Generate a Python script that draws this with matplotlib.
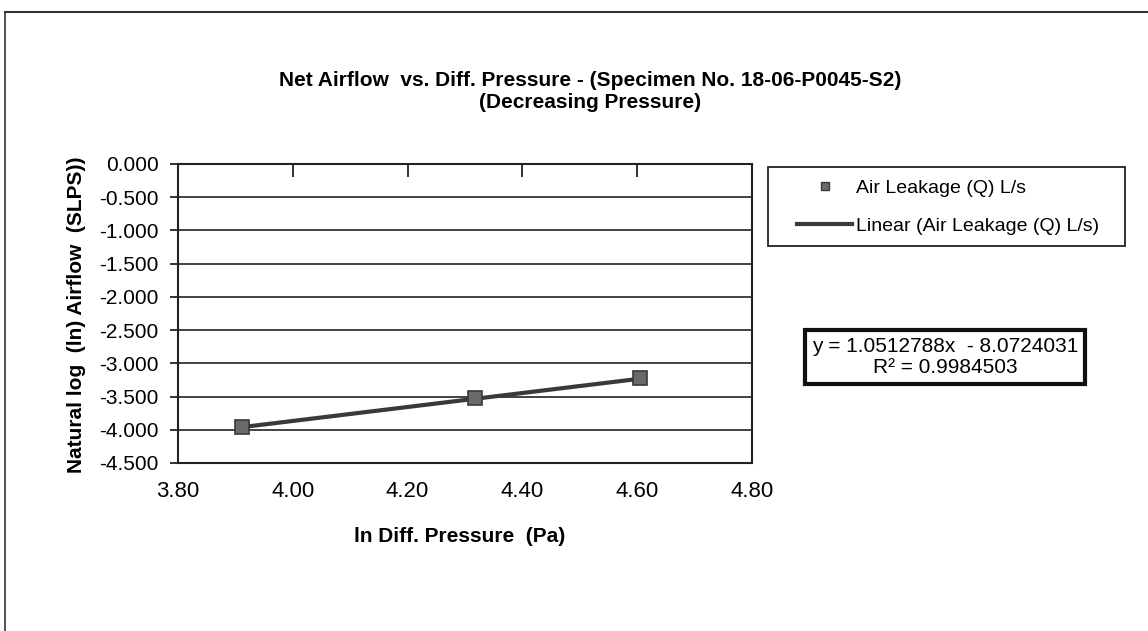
import numpy as np
import matplotlib
matplotlib.use("Agg")
from matplotlib import pyplot as plt
from matplotlib.lines import Line2D
from matplotlib.patches import Rectangle

plt.rcParams['font.family'] = ['Liberation Sans', 'DejaVu Sans']

# data: ln(pressure) vs ln(airflow)
ln_pressure = [3.912, 4.317, 4.605]
ln_airflow = [-3.955, -3.525, -3.225]
slope = 1.0512788
intercept = -8.0724031
r_squared = 0.9984503

x_ticks = [3.80, 4.00, 4.20, 4.40, 4.60, 4.80]
y_ticks = [0.0, -0.5, -1.0, -1.5, -2.0, -2.5, -3.0, -3.5, -4.0, -4.5]

W, H = 1148, 631
fig = plt.figure(figsize=(W / 100, H / 100), dpi=100)
fig.patch.set_facecolor("white")

# axes box in pixels: left 178, right 752, top 164, bottom 463
ax = fig.add_axes([178 / W, 1 - 463 / H, 574 / W, 299 / H])

for y in y_ticks[1:-1]:
    ax.axhline(y, color="#222222", lw=1.2, zorder=1)

# trend line
xs = np.array([min(ln_pressure), max(ln_pressure)])
ax.plot(xs, slope * xs + intercept, color="#3a3a3a", lw=3, zorder=3)
ax.plot(ln_pressure, ln_airflow, ls="none", marker="s", ms=10,
        mfc="#6a6a6a", mec="#3a3a3a", mew=1.2, zorder=4)

ax.set_xlim(3.80, 4.80)
ax.set_ylim(-4.5, 0.0)
ax.set_xticks(x_ticks)
ax.set_xticklabels([f"{v:.2f}" for v in x_ticks])
ax.set_yticks(y_ticks)
ax.set_yticklabels([f"{v:.3f}" for v in y_ticks])
ax.tick_params(axis="x", bottom=False, top=True, direction="in", length=9,
               width=1.3, labelsize=16, pad=13, color="#222222")
ax.tick_params(axis="y", direction="out", length=6, width=1.3,
               labelsize=15, pad=8, color="#222222")
for s in ax.spines.values():
    s.set_linewidth(1.5)
    s.set_color("#222222")

fig.text(590 / W, 1 - 81 / H, "Net Airflow  vs. Diff. Pressure - (Specimen No. 18-06-P0045-S2)",
         ha="center", va="center", fontsize=15, fontweight="bold")
fig.text(590 / W, 1 - 102 / H, "(Decreasing Pressure)",
         ha="center", va="center", fontsize=15, fontweight="bold")
fig.text(77 / W, 1 - 315 / H, "Natural log  (ln) Airflow  (SLPS))", rotation=90,
         ha="center", va="center", fontsize=15, fontweight="bold")
fig.text(460 / W, 1 - 537 / H, "ln Diff. Pressure  (Pa)",
         ha="center", va="center", fontsize=15, fontweight="bold")

# legend frame drawn separately so the padding can follow the reference
fig.add_artist(Rectangle((768 / W, 1 - 246 / H), 357 / W, 79 / H, transform=fig.transFigure,
                         fill=False, ec="#222222", lw=1.3))
handles = [
    Line2D([], [], ls="none", marker="s", ms=6, mfc="#6a6a6a", mec="#3a3a3a"),
    Line2D([], [], color="#3a3a3a", lw=3),
]
fig.legend(handles, ["Air Leakage (Q) L/s", "Linear (Air Leakage (Q) L/s)"],
           loc="upper left", bbox_to_anchor=(797 / W, 1 - 179 / H),
           fontsize=14, frameon=False, handlelength=2.85,
           handletextpad=0.2, borderpad=0, labelspacing=1.05,
           borderaxespad=0)

fig.text(945 / W, 1 - 357 / H,
         f"y = {slope:.7f}x  - {abs(intercept):.7f}\nR² = {r_squared:.7f}",
         ha="center", va="center", fontsize=15, linespacing=1.15,
         bbox=dict(boxstyle="square,pad=0.35", fc="white", ec="#111111", lw=3))

# chart area border (left and top edges visible)
fig.add_artist(Line2D([5 / W, 5 / W], [0, 1 - 12 / H], color="#333333", lw=1.2))
fig.add_artist(Line2D([5 / W, 1], [1 - 12 / H, 1 - 12 / H], color="#333333", lw=1.5))

fig.savefig("out.png", dpi=100, facecolor="white")
